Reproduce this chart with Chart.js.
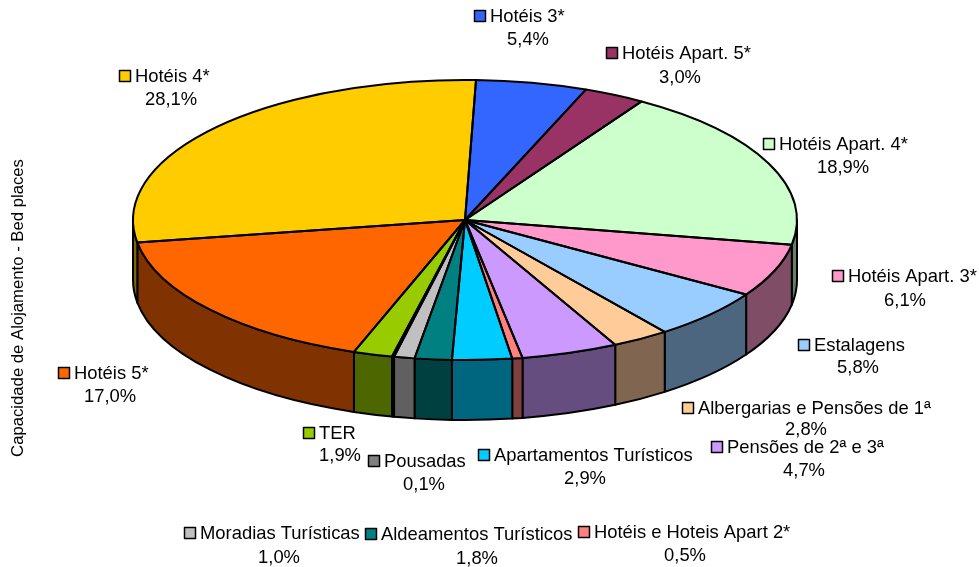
<!DOCTYPE html>
<html>
<head>
<meta charset="utf-8">
<style>html,body{margin:0;padding:0;background:#fff}canvas{display:block}</style>
<script src="https://cdn.jsdelivr.net/npm/chart.js@4/dist/chart.umd.min.js"></script>
</head>
<body>
<canvas id="c" width="979" height="567"></canvas>
<script>
const categories = ["Hotéis 3*","Hotéis Apart. 5*","Hotéis Apart. 4*","Hotéis Apart. 3*","Estalagens","Albergarias e Pensões de 1ª","Pensões de 2ª e 3ª","Hotéis e Hoteis Apart 2*","Apartamentos Turísticos","Aldeamentos Turísticos","Moradias Turísticas","Pousadas","TER","Hotéis 5*","Hotéis 4*"];
const shares = [5.4,3.0,18.9,6.1,5.8,2.8,4.7,0.5,2.9,1.8,1.0,0.1,1.9,17.0,28.1];
const topColors = ["#3366FF","#993366","#CCFFCC","#FF99CC","#99CCFF","#FFCC99","#CC99FF","#FF8080","#00CCFF","#008080","#C0C0C0","#808080","#99CC00","#FF6600","#FFCC00"];
const wallColors = ["#1A3380","#4D1A33","#668066","#804D66","#4D6680","#806650","#664D80","#804040","#006680","#004040","#606060","#404040","#4D6600","#803300","#806600"];
// marker left, marker top, percent centre x, percent centre y
const labelLayout = [[474,10,528,40],[606,47,680,78],[763,138,843,168],[832,270,905,301],[798,339,858,368],[682,402,806,430],[711,441,804,471],[578,526,685,556],[478,449,585,479],[365,528,477,559],[184,527,279,558],[368,455,424,485],[303,427,340,456],[58,367,110,397],[119,70,171,100]];
const axisTitle = "Capacidade de Alojamento - Bed places";
const PIE = {cx:465, cy:220, rx:332, ry:140, depth:60};
const FONT = '18.4px "Liberation Sans", Arial, sans-serif';

const pie3d = {
  id:'pie3d',
  beforeDatasetsDraw(chart){
    const ctx = chart.ctx, arcs = chart.getDatasetMeta(0).data, P = PIE;
    ctx.save();
    ctx.strokeStyle = '#000'; ctx.lineWidth = 2; ctx.lineJoin = 'round';
    arcs.forEach((el,i)=>{
      const s = el.startAngle, e = el.endAngle;
      [0, 2*Math.PI, -2*Math.PI].forEach(base=>{
        const a = Math.max(s, base), b = Math.min(e, base+Math.PI);
        if (b <= a) return;
        ctx.beginPath();
        ctx.ellipse(P.cx,P.cy,P.rx,P.ry,0,a,b,false);
        ctx.ellipse(P.cx,P.cy+P.depth,P.rx,P.ry,0,b,a,true);
        ctx.closePath();
        ctx.fillStyle = wallColors[i];
        ctx.fill(); ctx.stroke();
      });
    });
    ctx.restore();
    const el0 = arcs[0];
    ctx.save();
    ctx.translate(P.cx,P.cy);
    ctx.scale(P.rx/el0.outerRadius, P.ry/el0.outerRadius);
    ctx.translate(-el0.x,-el0.y);
  },
  afterDatasetsDraw(chart){
    const ctx = chart.ctx, arcs = chart.getDatasetMeta(0).data, P = PIE;
    ctx.restore();
    ctx.save();
    ctx.strokeStyle = '#000'; ctx.lineWidth = 2; ctx.lineJoin = 'round';
    arcs.forEach(el=>{
      ctx.beginPath();
      ctx.moveTo(P.cx,P.cy);
      ctx.ellipse(P.cx,P.cy,P.rx,P.ry,0,el.startAngle,el.endAngle,false);
      ctx.closePath();
      ctx.stroke();
    });
    ctx.font = FONT; ctx.fillStyle = '#000'; ctx.textBaseline = 'middle';
    categories.forEach((name,i)=>{
      const [mx,my,px,py] = labelLayout[i];
      ctx.fillStyle = topColors[i];
      ctx.fillRect(mx+.5,my+.5,11,11);
      ctx.strokeStyle = '#000'; ctx.lineWidth = 1.5;
      ctx.strokeRect(mx+.5,my+.5,11,11);
      ctx.fillStyle = '#000';
      ctx.textAlign = 'left';
      ctx.fillText(name, mx+16, my+7);
      ctx.textAlign = 'center';
      ctx.fillText(shares[i].toFixed(1).replace('.',',')+'%', px, py);
    });
    ctx.translate(18,308);
    ctx.rotate(-Math.PI/2);
    ctx.font = '16.7px "Liberation Sans", Arial, sans-serif';
    ctx.textAlign = 'center';
    ctx.fillText(axisTitle,0,0);
    ctx.restore();
  }
};

new Chart(document.getElementById('c'),{
  type:'pie',
  data:{labels:categories,datasets:[{data:shares,backgroundColor:topColors,borderWidth:0,clip:false}]},
  options:{
    responsive:false,animation:false,rotation:1.9,
    layout:{padding:0},
    plugins:{legend:{display:false},tooltip:{enabled:false},title:{display:false}},
    events:[]
  },
  plugins:[pie3d]
});
</script>
</body>
</html>
